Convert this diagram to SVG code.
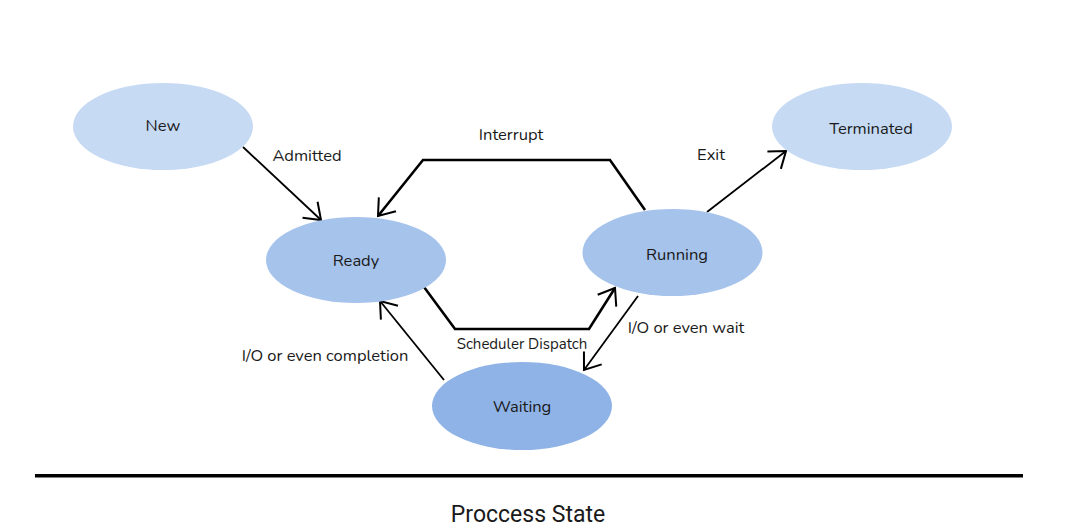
<svg xmlns="http://www.w3.org/2000/svg" width="1068" height="527" viewBox="0 0 1068 527">
<style>
.lbl{font-family:"Nunito","Lato","Noto Sans",sans-serif;font-size:16.5px;fill:#1a1a1a;text-anchor:middle}
.small{font-size:15px}
.edge{fill:none;stroke:#000;stroke-width:1.8;stroke-linejoin:miter}
.thick{stroke-width:2.6}
</style>
<defs>
<marker id="arr" markerUnits="userSpaceOnUse" markerWidth="30" markerHeight="30" viewBox="-20 -15 22 30" refX="0" refY="0" orient="auto" overflow="visible">
<path d="M-15,-11 L0,0 L-15,11" fill="none" stroke="#000" stroke-width="2"/>
</marker>
</defs>
<rect width="1068" height="527" fill="#ffffff"/>
<g id="connectors">
<line class="edge" x1="243" y1="147" x2="321" y2="220" marker-end="url(#arr)"/>
<polyline class="edge thick" points="645,210 610,160 423,160 378,216" marker-end="url(#arr)"/>
<polyline class="edge thick" points="424,287 455,329 589,329 615,288" marker-end="url(#arr)"/>
<line class="edge" x1="638" y1="296" x2="584" y2="370" marker-end="url(#arr)"/>
<line class="edge" x1="444" y1="380" x2="380" y2="301" marker-end="url(#arr)"/>
<line class="edge" x1="707" y1="212" x2="786" y2="151" marker-end="url(#arr)"/>
<text class="lbl" x="307" y="161">Admitted</text>
<text class="lbl" x="511" y="140">Interrupt</text>
<text class="lbl" x="711" y="160">Exit</text>
<text class="lbl small" x="522" y="349">Scheduler Dispatch</text>
<text class="lbl" x="686" y="333">I/O or even wait</text>
<text class="lbl" x="325" y="361">I/O or even completion</text>
</g>
<g id="new">
<ellipse cx="163" cy="126.5" rx="90" ry="43.5" fill="#c6daf4"/>
<text class="lbl" x="163" y="131">New</text>
</g>
<g id="terminated">
<ellipse cx="862" cy="126.5" rx="90" ry="43.5" fill="#c6daf4"/>
<text class="lbl" x="871" y="134">Terminated</text>
</g>
<g id="ready">
<ellipse cx="356" cy="260" rx="90" ry="43" fill="#a6c3ec"/>
<text class="lbl" x="356" y="266">Ready</text>
</g>
<g id="running">
<ellipse cx="672.5" cy="252.5" rx="90" ry="43.5" fill="#a6c3ec"/>
<text class="lbl" x="677" y="260">Running</text>
</g>
<g id="waiting">
<ellipse cx="522" cy="406" rx="90" ry="44" fill="#8fb3e6"/>
<text class="lbl" x="522" y="412">Waiting</text>
</g>
<g id="footer">
<rect x="35" y="474" width="988" height="3.5" fill="#000"/>
<text x="528" y="522" font-family="Roboto, 'Noto Sans', sans-serif" font-size="23" fill="#1a1a1a" text-anchor="middle">Proccess State</text>
</g>
</svg>
